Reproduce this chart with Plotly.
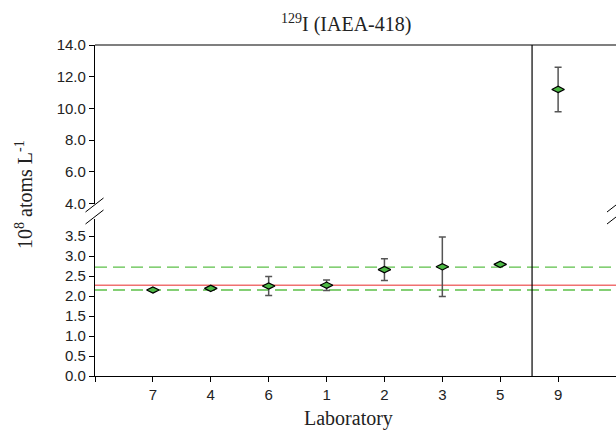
import plotly.graph_objects as go

# Laboratory results for 129I in IAEA-418 (10^8 atoms per litre)
labs = ["7", "4", "6", "1", "2", "3", "5", "9"]
values = [2.15, 2.19, 2.25, 2.27, 2.66, 2.73, 2.79, 11.2]
uncert = [0.03, 0.03, 0.24, 0.13, 0.27, 0.745, 0.03, 1.4]

# Reference value and its confidence band
ref_value = 2.27
band_low = 2.15
band_high = 2.72

# Axis break: values above this go to the upper panel
break_at = 3.95
lower_ticks = [0.0, 0.5, 1.0, 1.5, 2.0, 2.5, 3.0, 3.5]
upper_ticks = [4.0, 6.0, 8.0, 10.0, 12.0, 14.0]

W, H = 616, 431
L, R, T, B = 95, 0, 45, 55
PW, PH = W - L - R, H - T - B


def px(x):
    return (x - L) / PW


def py(y):
    return (H - B - y) / PH


xpos = list(range(1, len(labs) + 1))
low_idx = [i for i, v in enumerate(values) if v <= break_at]
up_idx = [i for i, v in enumerate(values) if v > break_at]

green = "#4cb944"
marker = dict(symbol="diamond-wide", size=9, color=green,
              line=dict(color="black", width=1.2))
err_style = dict(type="data", color="#555555", thickness=1.5, width=3.5)

fig = go.Figure()

# reference lines across the whole lower panel
x_span = [0, 9]
fig.add_trace(go.Scatter(x=x_span, y=[band_high] * 2, mode="lines",
                         line=dict(color="#5cc048", width=1.3, dash="12px,6px"),
                         hoverinfo="skip", yaxis="y"))
fig.add_trace(go.Scatter(x=x_span, y=[band_low] * 2, mode="lines",
                         line=dict(color="#5cc048", width=1.3, dash="12px,6px"),
                         hoverinfo="skip", yaxis="y"))
fig.add_trace(go.Scatter(x=x_span, y=[ref_value] * 2, mode="lines",
                         line=dict(color="#f07070", width=1.5),
                         hoverinfo="skip", yaxis="y"))

fig.add_trace(go.Scatter(
    x=[xpos[i] for i in low_idx], y=[values[i] for i in low_idx],
    error_y=dict(array=[uncert[i] for i in low_idx], **err_style),
    mode="markers", marker=marker, yaxis="y"))
fig.add_trace(go.Scatter(
    x=[xpos[i] for i in up_idx], y=[values[i] for i in up_idx],
    error_y=dict(array=[uncert[i] for i in up_idx], **err_style),
    mode="markers", marker=marker, yaxis="y2"))

tick_font = dict(family="Liberation Sans, Arial, sans-serif", size=15, color="#222")
axis_common = dict(showline=True, linecolor="black", linewidth=1.2,
                   ticks="outside", ticklen=5, tickcolor="black",
                   showgrid=False, zeroline=False, tickfont=tick_font)

dom_low = [0, py(219)]
dom_up = [py(204), 1]
lo_top = (H - B - 219) / 40.0
up_bottom = 14.0 - (204 - T) / 15.87

fig.update_layout(
    width=W, height=H,
    margin=dict(l=L, r=R, t=T, b=B),
    paper_bgcolor="white", plot_bgcolor="white",
    showlegend=False,
    xaxis=dict(range=[0, 9], tickvals=[0] + xpos, ticktext=[" "] + labs,
               anchor="y", **axis_common),
    yaxis=dict(domain=dom_low, range=[0, lo_top], tickvals=lower_ticks,
               tickformat=".1f", anchor="x", **axis_common),
    yaxis2=dict(domain=dom_up, range=[up_bottom, 14.0], tickvals=upper_ticks,
                tickformat=".1f", anchor="x", **axis_common),
)

line_k = dict(color="black", width=1.2)
shapes = [
    # top frame line
    dict(type="line", xref="paper", yref="paper", x0=0, x1=1, y0=1, y1=1,
         line=line_k),
    # separator before laboratory 9
    dict(type="line", xref="x", yref="paper", x0=7.55, x1=7.55, y0=0, y1=1,
         line=line_k),
]
# axis-break slashes on the left and right edges
for cx in (94.5, 616):
    for cy in (205, 217):
        shapes.append(dict(type="line", xref="paper", yref="paper",
                           x0=px(cx - 9), y0=py(cy + 7),
                           x1=px(cx + 9), y1=py(cy - 7),
                           line=dict(color="black", width=1)))
fig.update_layout(shapes=shapes)

serif = "Liberation Serif, Times New Roman, serif"
fig.add_annotation(text="<sup>129</sup>I (IAEA-418)", xref="paper", yref="paper",
                   x=px(346), y=py(24), showarrow=False,
                   xanchor="center", yanchor="middle",
                   font=dict(family=serif, size=20, color="#222"))
fig.add_annotation(text="Laboratory", xref="paper", yref="paper",
                   x=px(348), y=py(418), showarrow=False,
                   xanchor="center", yanchor="middle",
                   font=dict(family=serif, size=20, color="#222"))
fig.add_annotation(text="10<sup>8</sup> atoms L<sup>-1</sup>", xref="paper", yref="paper",
                   x=px(24), y=py(195), showarrow=False, textangle=-90,
                   xanchor="center", yanchor="middle",
                   font=dict(family=serif, size=20, color="#222"))

fig.write_html("out.html")
